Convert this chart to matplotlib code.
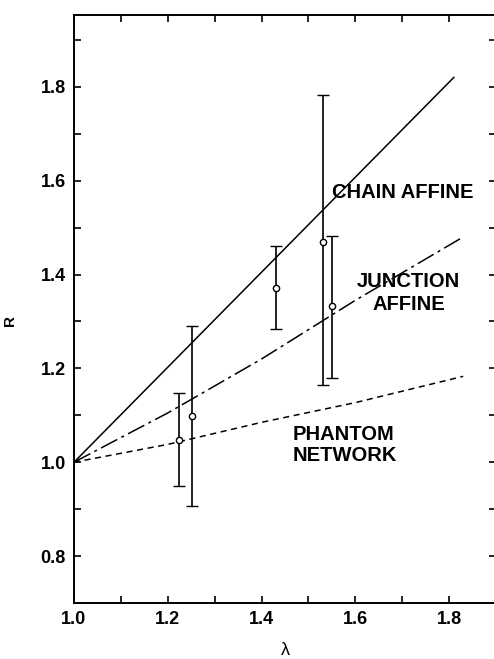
import matplotlib.pyplot as plt
from matplotlib.ticker import MultipleLocator

plt.rcParams['font.family'] = ['Liberation Sans', 'DejaVu Sans']

# curvas teoricas
lam_chain = [1.0, 1.81]
r_chain = [1.0, 1.82]

lam_junc = [1.0, 1.2, 1.4, 1.6, 1.83]
r_junc = [1.0, 1.105, 1.22, 1.345, 1.48]

lam_phan = [1.0, 1.2, 1.4, 1.6, 1.83]
r_phan = [1.0, 1.038, 1.085, 1.127, 1.183]

# pontos experimentais
lam_pts = [1.223, 1.252, 1.431, 1.531, 1.55]
r_pts = [1.047, 1.098, 1.372, 1.47, 1.332]
r_top = [1.147, 1.29, 1.46, 1.783, 1.481]
r_bot = [0.949, 0.906, 1.283, 1.164, 1.18]

err_lo = [r - b for r, b in zip(r_pts, r_bot)]
err_hi = [t - r for r, t in zip(r_pts, r_top)]

fig = plt.figure(figsize=(4.94, 6.59), dpi=100)
ax = fig.add_axes([74/494, 56/659, 422/494, 588/659])

ax.plot(lam_chain, r_chain, color='black', lw=1.1)
ax.plot(lam_junc, r_junc, color='black', lw=1.1, dashes=(12, 3, 2, 3))
ax.plot(lam_phan, r_phan, color='black', lw=1.1, dashes=(4, 3))

ax.errorbar(lam_pts, r_pts, yerr=[err_lo, err_hi], fmt='o', ms=4.5,
            mfc='white', mec='black', mew=1.0, ecolor='black',
            elinewidth=1.2, capsize=4, capthick=1.2, zorder=3)

fs = 14.5
ax.text(1.55, 1.575, 'CHAIN AFFINE', fontsize=fs, fontweight='bold', va='center', ha='left')
ax.text(1.714, 1.385, 'JUNCTION', fontsize=fs, fontweight='bold', va='center', ha='center')
ax.text(1.714, 1.336, 'AFFINE', fontsize=fs, fontweight='bold', va='center', ha='center')
ax.text(1.467, 1.06, 'PHANTOM', fontsize=fs, fontweight='bold', va='center', ha='left')
ax.text(1.467, 1.015, 'NETWORK', fontsize=fs, fontweight='bold', va='center', ha='left')

ax.set_xlim(1.0, 1.9)
ax.set_ylim(0.7, 1.953)
ax.set_xticks([1.0, 1.2, 1.4, 1.6, 1.8])
ax.set_yticks([0.8, 1.0, 1.2, 1.4, 1.6, 1.8])
ax.xaxis.set_minor_locator(MultipleLocator(0.1))
ax.yaxis.set_minor_locator(MultipleLocator(0.1))
ax.tick_params(which='both', direction='in', top=True, right=True, length=5, width=1.2)
ax.tick_params(labelsize=13, pad=6)
for lab in ax.get_xticklabels() + ax.get_yticklabels():
    lab.set_fontweight('bold')
for s in ax.spines.values():
    s.set_linewidth(1.4)

ax.set_xlabel('λ', fontsize=13, labelpad=10)
ax.set_ylabel('R', fontsize=11, fontweight='bold')
ax.yaxis.set_label_coords(-0.135, 0.48)

fig.savefig('out.png', dpi=100)
